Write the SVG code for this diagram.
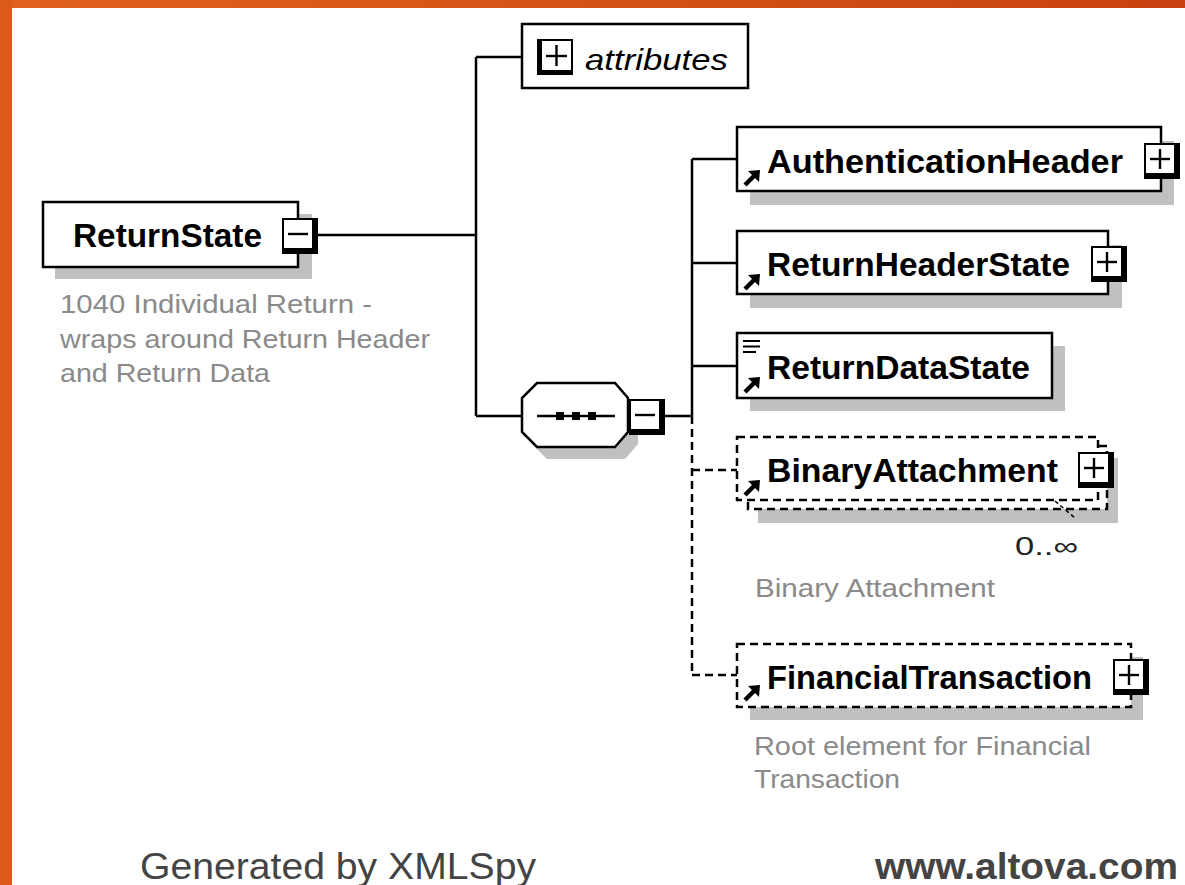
<svg xmlns="http://www.w3.org/2000/svg" width="1185" height="885" viewBox="0 0 1185 885">
  <defs>
    <linearGradient id="frame" x1="0" y1="0" x2="1" y2="0">
      <stop offset="0" stop-color="#e0621e"/>
      <stop offset="1" stop-color="#c8420f"/>
    </linearGradient>
    <g id="arrow">
      <path d="M17,0 L5,1 L16,12 Z" fill="#000"/>
      <line x1="2" y1="15" x2="11" y2="6" stroke="#000" stroke-width="4.5"/>
    </g>
    <g id="btnPlus">
      <rect x="0" y="0" width="36" height="36" fill="#000"/>
      <rect x="2" y="2" width="28" height="28" fill="#fff"/>
      <line x1="6" y1="16" x2="26" y2="16" stroke="#000" stroke-width="2.4"/>
      <line x1="16" y1="6" x2="16" y2="26" stroke="#000" stroke-width="2.4"/>
    </g>
    <g id="btnMinus">
      <rect x="0" y="0" width="36" height="36" fill="#000"/>
      <rect x="2" y="2" width="28" height="28" fill="#fff"/>
      <line x1="6" y1="16" x2="26" y2="16" stroke="#000" stroke-width="2.4"/>
    </g>
  </defs>
  <style>
    .box { fill: #fff; stroke: #000; stroke-width: 2.5; }
    .dbox { fill: #fff; stroke: #000; stroke-width: 2.5; stroke-dasharray: 8 5; }
    .shadow { fill: #c0c0c0; }
    .conn { fill: none; stroke: #000; stroke-width: 2.5; }
    .dconn { fill: none; stroke: #000; stroke-width: 2.5; stroke-dasharray: 8 5; }
    .name { font-family: "Liberation Sans", Arial, sans-serif; font-weight: bold; font-size: 33px; fill: #000; }
    .attr { font-family: "Liberation Sans", Arial, sans-serif; font-style: italic; font-size: 29px; fill: #000; }
    .desc { font-family: "Liberation Sans", Arial, sans-serif; font-size: 25px; fill: #8a8a8a; }
    .card { font-family: "Liberation Sans", Arial, sans-serif; font-size: 25px; fill: #222; }
    .foot { font-family: "Liberation Sans", Arial, sans-serif; font-size: 36px; fill: #444; }
    .footb { font-family: "Liberation Sans", Arial, sans-serif; font-size: 37px; font-weight: bold; fill: #444; }
  </style>

  <rect x="0" y="0" width="1185" height="885" fill="#fff"/>
  <rect x="0" y="0" width="1185" height="8" fill="url(#frame)"/>
  <rect x="0" y="0" width="12" height="885" fill="#dc5a1a"/>

  <g id="connectors">
    <path class="conn" d="M317,235 H476 M476,57 V416 M476,57 H522 M476,416 H522"/>
    <path class="conn" d="M664,416 H692 M692,159 V416 M692,159 H737 M692,263 H737 M692,366 H737"/>
    <path class="dconn" d="M692,416 V675 M692,470 H737 M692,675 H737"/>
  </g>

  <g id="ReturnState">
    <rect class="shadow" x="55" y="214" width="257" height="65"/>
    <rect class="box" x="43" y="202" width="255" height="65"/>
    <text class="name" x="73" y="247" textLength="189" lengthAdjust="spacingAndGlyphs">ReturnState</text>
    <use href="#btnMinus" x="282" y="218"/>
    <text class="desc" x="60" y="313" textLength="312" lengthAdjust="spacingAndGlyphs">1040 Individual Return -</text>
    <text class="desc" x="60" y="348" textLength="370" lengthAdjust="spacingAndGlyphs">wraps around Return Header</text>
    <text class="desc" x="60" y="382" textLength="210" lengthAdjust="spacingAndGlyphs">and Return Data</text>
  </g>

  <g id="attributes">
    <rect class="box" x="522" y="24" width="226" height="64"/>
    <rect x="537" y="39" width="36" height="36" fill="#000"/>
    <rect x="542" y="41" width="29" height="29" fill="#fff"/>
    <line x1="546" y1="56" x2="567" y2="56" stroke="#000" stroke-width="2.4"/>
    <line x1="556.5" y1="45" x2="556.5" y2="66" stroke="#000" stroke-width="2.4"/>
    <text class="attr" x="585" y="70" textLength="143" lengthAdjust="spacingAndGlyphs">attributes</text>
  </g>

  <g id="sequence">
    <polygon class="shadow" points="547,395 625,395 638,410 638,444 625,459 547,459 532,444 532,410"/>
    <polygon class="box" points="537,383 615,383 628,398 628,432 615,447 537,447 522,432 522,398"/>
    <line x1="537" y1="416" x2="615" y2="416" stroke="#000" stroke-width="2.5"/>
    <rect x="556" y="412" width="8" height="8" fill="#000"/>
    <rect x="572" y="412" width="8" height="8" fill="#000"/>
    <rect x="588" y="412" width="8" height="8" fill="#000"/>
    <use href="#btnMinus" x="629" y="399"/>
  </g>

  <g id="AuthenticationHeader">
    <rect class="shadow" x="750" y="141" width="424" height="64"/>
    <rect class="box" x="737" y="127" width="424" height="64"/>
    <use href="#arrow" x="743" y="170"/>
    <text class="name" x="767" y="173" textLength="356" lengthAdjust="spacingAndGlyphs">AuthenticationHeader</text>
    <use href="#btnPlus" x="1144" y="143"/>
  </g>

  <g id="ReturnHeaderState">
    <rect class="shadow" x="750" y="245" width="372" height="63"/>
    <rect class="box" x="737" y="231" width="371" height="63"/>
    <use href="#arrow" x="743" y="274"/>
    <text class="name" x="767" y="276" textLength="303" lengthAdjust="spacingAndGlyphs">ReturnHeaderState</text>
    <use href="#btnPlus" x="1091" y="246"/>
  </g>

  <g id="ReturnDataState">
    <rect class="shadow" x="750" y="346" width="315" height="65"/>
    <rect class="box" x="737" y="333" width="315" height="65"/>
    <path d="M743,341 H760 M743,346.5 H760 M743,352 H756" stroke="#000" stroke-width="2.2"/>
    <use href="#arrow" x="743" y="377"/>
    <text class="name" x="767" y="379" textLength="263" lengthAdjust="spacingAndGlyphs">ReturnDataState</text>
  </g>

  <g id="BinaryAttachment">
    <rect class="shadow" x="758" y="458" width="360" height="65"/>
    <rect class="dbox" x="748" y="446" width="359" height="63"/>
    <rect class="dbox" x="737" y="437" width="361" height="63"/>
    <use href="#arrow" x="743" y="480"/>
    <text class="name" x="767" y="482" textLength="291" lengthAdjust="spacingAndGlyphs">BinaryAttachment</text>
    <use href="#btnPlus" x="1078" y="452"/>
    <line x1="1055" y1="501" x2="1075" y2="518" stroke="#000" stroke-width="1.5" stroke-dasharray="4 3"/>
    <text class="card" x="1015" y="555" textLength="63" lengthAdjust="spacingAndGlyphs">0..∞</text>
    <text class="desc" x="755" y="597" textLength="240" lengthAdjust="spacingAndGlyphs">Binary Attachment</text>
  </g>

  <g id="FinancialTransaction">
    <rect class="shadow" x="750" y="657" width="393" height="63"/>
    <rect class="dbox" x="737" y="644" width="394" height="63"/>
    <use href="#arrow" x="743" y="685"/>
    <text class="name" x="767" y="689" textLength="325" lengthAdjust="spacingAndGlyphs">FinancialTransaction</text>
    <use href="#btnPlus" x="1113" y="659"/>
    <text class="desc" x="754" y="755" textLength="337" lengthAdjust="spacingAndGlyphs">Root element for Financial</text>
    <text class="desc" x="754" y="788" textLength="146" lengthAdjust="spacingAndGlyphs">Transaction</text>
  </g>

  <g id="footer">
    <text class="foot" x="140" y="879" textLength="396" lengthAdjust="spacingAndGlyphs">Generated by XMLSpy</text>
    <text class="footb" x="875" y="879" textLength="303" lengthAdjust="spacingAndGlyphs">www.altova.com</text>
  </g>
</svg>
